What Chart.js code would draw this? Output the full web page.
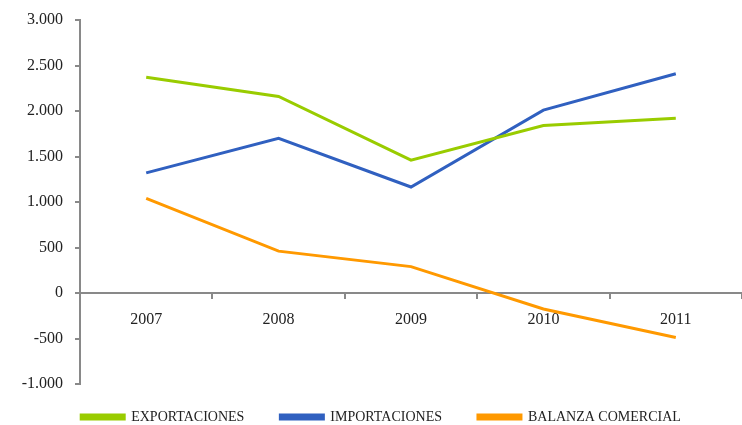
<!DOCTYPE html>
<html lang="es">
<head>
    <meta charset="UTF-8">
    <title>Exportaciones, importaciones y balanza comercial</title>
    <script src="https://cdn.jsdelivr.net/npm/chart.js"></script>
    <style>
        html, body {
            margin: 0;
            padding: 0;
            background: #ffffff;
        }
        #wrap {
            width: 742px;
            height: 425px;
        }
    </style>
</head>
<body>

    <div id="wrap"><canvas id="chart"></canvas></div>

    <script>
        // Values
        var years = ['2007', '2008', '2009', '2010', '2011'];
        var exportaciones = [2370, 2160, 1460, 1840, 1920];
        var importaciones = [1320, 1700, 1165, 2010, 2410];
        var balanza = [1040, 460, 290, -175, -490];

        var serif = "'Liberation Serif', 'DejaVu Serif', serif";
        var axisGray = '#898989';

        // 3000 -> "3.000"
        function formatNumber(v) {
            var s = Math.abs(v).toString().replace(/\B(?=(\d{3})+(?!\d))/g, '.');
            return (v < 0 ? '-' : '') + s;
        }

        // pull the legend up a little so it sits close under the plot,
        // while keeping the wide gaps between the items
        var legendNudge = {
            id: 'legendNudge',
            afterLayout: function (chart) {
                chart.legend.top -= 10;
                chart.legend.bottom -= 10;
                chart.legend.left += 10;
                chart.legend.right += 10;
            }
        };

        var ctx = document.getElementById('chart').getContext('2d');

        var myChart = new Chart(ctx, {
            type: 'line',
            data: {
                labels: years,
                datasets: [{
                    label: 'EXPORTACIONES',
                    data: exportaciones,
                    borderColor: '#99CC00',
                    backgroundColor: '#99CC00',
                    borderWidth: 3,
                    pointRadius: 0,
                    tension: 0
                }, {
                    label: 'IMPORTACIONES',
                    data: importaciones,
                    borderColor: '#3060C0',
                    backgroundColor: '#3060C0',
                    borderWidth: 3,
                    pointRadius: 0,
                    tension: 0
                }, {
                    label: 'BALANZA COMERCIAL',
                    data: balanza,
                    borderColor: '#FF9900',
                    backgroundColor: '#FF9900',
                    borderWidth: 3,
                    pointRadius: 0,
                    tension: 0
                }]
            },
            options: {
                responsive: true,
                maintainAspectRatio: false,
                animation: false,
                layout: {
                    padding: { top: 9, right: 0, bottom: -19, left: 0 }
                },
                scales: {
                    x: {
                        position: { y: 0 },
                        offset: true,
                        grid: {
                            offset: true,
                            drawOnChartArea: false,
                            drawTicks: true,
                            tickLength: 5,
                            color: axisGray,
                            lineWidth: 2
                        },
                        border: { color: axisGray, width: 2 },
                        ticks: {
                            color: '#222',
                            padding: 12,
                            maxRotation: 0,
                            font: { family: serif, size: 16 }
                        }
                    },
                    y: {
                        min: -1000,
                        max: 3000,
                        afterFit: function (scale) { scale.width = 80; },
                        grid: {
                            drawOnChartArea: false,
                            drawTicks: true,
                            tickLength: 5,
                            color: axisGray,
                            lineWidth: 2
                        },
                        border: { color: axisGray, width: 2 },
                        ticks: {
                            stepSize: 500,
                            color: '#222',
                            padding: 12,
                            font: { family: serif, size: 16, lineHeight: 1 },
                            callback: function (value) { return formatNumber(value); }
                        }
                    }
                },
                plugins: {
                    legend: {
                        position: 'bottom',
                        labels: {
                            boxWidth: 43,
                            boxHeight: 4,
                            padding: 36,
                            color: '#222',
                            font: { family: serif, size: 14 }
                        }
                    },
                    tooltip: { enabled: false }
                }
            },
            plugins: [legendNudge]
        });
    </script>

</body>
</html>
